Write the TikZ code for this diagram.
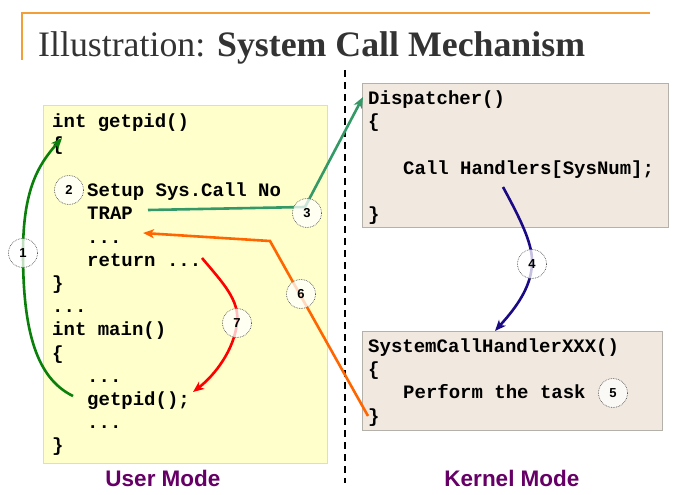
\documentclass[tikz,border=0pt]{standalone}
\usepackage{fontspec}
\setmainfont{Liberation Serif}
\newfontfamily\codefont{Liberation Mono}
\newfontfamily\labelfont{Liberation Sans}
\usetikzlibrary{arrows.meta}
\definecolor{userfill}{HTML}{FFFFCC}
\definecolor{userdraw}{HTML}{E6DDB3}
\definecolor{kernfill}{HTML}{F1E9DF}
\definecolor{kerndraw}{HTML}{B4B0AA}
\definecolor{frameorange}{HTML}{F29F3A}
\definecolor{titlegray}{HTML}{333333}
\definecolor{modepurple}{HTML}{660066}
\definecolor{cgreen}{HTML}{0A7F0A}
\definecolor{cteal}{HTML}{339966}
\definecolor{cnavy}{HTML}{1A0A85}
\definecolor{corange}{HTML}{FF6600}
\definecolor{cred}{HTML}{FF0000}
\definecolor{circdraw}{HTML}{555555}
\begin{document}
\begin{tikzpicture}[x=1pt,y=-1pt,
  code/.style={anchor=base west, inner sep=0pt, font=\codefont\bfseries\fontsize{19}{23}\selectfont},
  userbox/.style={draw=userdraw, fill=userfill, line width=1pt, anchor=north west, inner sep=0pt},
  kernbox/.style={draw=kerndraw, fill=kernfill, line width=1pt, anchor=north west, inner sep=0pt},
  stepcirc/.style={circle, minimum size=29pt, inner sep=0pt, draw=circdraw, line width=0.7pt, densely dotted, fill=white, fill opacity=0.75, text opacity=1, font=\labelfont\bfseries\fontsize{13}{15}\selectfont},
  modelabel/.style={inner sep=0pt, text=modepurple, font=\labelfont\bfseries\fontsize{22.5}{26}\selectfont},
  flow/.style={line width=2.6pt, -{Stealth[length=11pt,width=9pt,inset=3pt]}},
  frameline/.style={draw=frameorange, line width=1.5pt},
  divider/.style={line width=2pt, dash pattern=on 7pt off 5pt}
]
\useasboundingbox (0,0) rectangle (675,495);

% frame and title
\draw[frameline] (22,60) -- (22,13) -- (650,13);
\node[anchor=base west, inner sep=0pt, text=titlegray, font=\fontsize{35.8}{40}\selectfont] (title) at (38,57) {Illustration: \textbf{System Call Mechanism}};

% divider
\draw[divider] (345,70) -- (345,483);

% boxes
\node[userbox, minimum width=284pt, minimum height=358pt] (user) at (43,105) {};
\node[kernbox, minimum width=306pt, minimum height=144pt] (disp) at (362,83) {};
\node[kernbox, minimum width=300pt, minimum height=99pt] (hand) at (362,331) {};

% user code
\node[code] (u0) at (52,127) {int getpid()};
\node[code] (u1) at (52,150.2) {\{};
\node[code] (u3) at (87,196.6) {Setup Sys.Call No};
\node[code] (u4) at (87,219.8) {TRAP};
\node[code] (u5) at (87,243) {...};
\node[code] (u6) at (87,266.2) {return ...};
\node[code] (u7) at (52,289.4) {\}};
\node[code] (u8) at (52,312.6) {...};
\node[code] (u9) at (52,335.8) {int main()};
\node[code] (u10) at (52,359) {\{};
\node[code] (u11) at (87,382.2) {...};
\node[code] (u12) at (87,405.4) {getpid();};
\node[code] (u13) at (87,428.6) {...};
\node[code] (u14) at (52,451.8) {\}};

% dispatcher code
\node[code] (d0) at (368,104) {Dispatcher()};
\node[code] (d1) at (368,127.3) {\{};
\node[code] (d2) at (403,174) {Call Handlers[SysNum];};
\node[code] (d3) at (368,220.5) {\}};

% handler code
\node[code] (h0) at (368,352) {SystemCallHandlerXXX()};
\node[code] (h1) at (368,375.3) {\{};
\node[code] (h2) at (403,398.6) {Perform the task};
\node[code] (h3) at (368,422) {\}};

% mode labels
\node[modelabel] (um) at (163,478) {User Mode};
\node[modelabel] (km) at (512,478) {Kernel Mode};

% connector coordinates
\coordinate (p1) at (23,253);
\coordinate (g1s) at (73,396);
\coordinate (g1e) at (62,138);
\coordinate (t3s) at (148,210);
\coordinate (t3c) at (305,207);
\coordinate (t3e) at (363,97);
\coordinate (p4) at (532,264);
\coordinate (n4s) at (503,187);
\coordinate (n4e) at (495,331);
\coordinate (o6s) at (368,416);
\coordinate (o6c) at (270,241);
\coordinate (o6e) at (143,233);
\coordinate (p7) at (237,323);
\coordinate (r7s) at (202,258);
\coordinate (r7e) at (193,392);

% connectors
\draw[flow, cgreen] (g1s) .. controls (36,378) and (23,330) .. (p1) .. controls (23,190) and (38,165) .. (g1e);
\draw[flow, cteal] (t3s) -- (t3c) -- (t3e);
\draw[flow, cnavy] (n4s) .. controls (522,222) and (533,245) .. (p4) .. controls (531,290) and (512,312) .. (n4e);
\draw[flow, corange] (o6s) -- (o6c) -- (o6e);
\draw[flow, cred] (r7s) .. controls (222,282) and (240,300) .. (p7) .. controls (234,350) and (215,375) .. (r7e);

% step circles
\node[stepcirc] (c1) at (p1) {1};
\node[stepcirc] (c2) at (69,190) {2};
\node[stepcirc] (c3) at (307,213) {3};
\node[stepcirc] (c4) at (p4) {4};
\node[stepcirc] (c5) at (613,393) {5};
\node[stepcirc] (c6) at (301,294) {6};
\node[stepcirc] (c7) at (p7) {7};
\end{tikzpicture}
\end{document}
